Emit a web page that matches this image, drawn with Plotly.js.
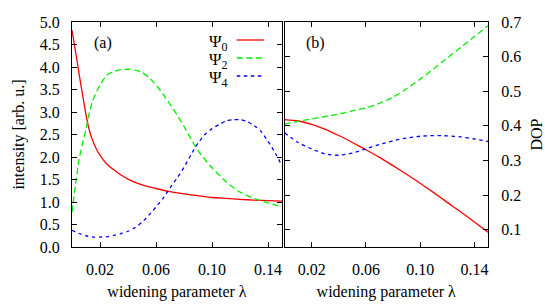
<!DOCTYPE html>
<html>
<head>
<meta charset="utf-8">
<script src="https://cdn.plot.ly/plotly-3.0.1.min.js"></script>
<style>html,body{margin:0;padding:0;background:#fff}#chart{width:545px;height:305px}</style>
</head>
<body>
<div id="chart"></div>
<script>
// ---- data ----
const xTickVals = [0.02, 0.06, 0.10, 0.14];
const xTickText = ["0.02", "0.06", "0.10", "0.14"];
const yLeftTicks = [0, 0.5, 1, 1.5, 2, 2.5, 3, 3.5, 4, 4.5, 5];
const yRightTicks = [0.1, 0.2, 0.3, 0.4, 0.5, 0.6, 0.7];
const seriesNames = ["Ψ<sub>0</sub>", "Ψ<sub>2</sub>", "Ψ<sub>4</sub>"];

// panel (a): intensity
const xA0 = [0, 0.002, 0.004, 0.006, 0.008, 0.010, 0.012, 0.014, 0.016, 0.018, 0.020, 0.0225, 0.025, 0.03, 0.035, 0.04, 0.05, 0.06, 0.07, 0.08, 0.09, 0.10, 0.11, 0.12, 0.13, 0.14, 0.15];
const yA0 = [4.82, 4.44, 4.06, 3.67, 3.30, 2.94, 2.64, 2.43, 2.27, 2.14, 2.04, 1.93, 1.84, 1.71, 1.60, 1.51, 1.38, 1.30, 1.23, 1.18, 1.14, 1.10, 1.08, 1.06, 1.04, 1.03, 1.02];
const xA2 = [0, 0.0025, 0.005, 0.0075, 0.01, 0.0125, 0.015, 0.02, 0.025, 0.03, 0.035, 0.04, 0.045, 0.05, 0.055, 0.06, 0.065, 0.07, 0.075, 0.08, 0.085, 0.09, 0.10, 0.11, 0.12, 0.13, 0.14, 0.15];
const yA2 = [0.78, 1.38, 1.93, 2.30, 2.62, 3.00, 3.27, 3.60, 3.82, 3.90, 3.94, 3.95, 3.93, 3.88, 3.77, 3.60, 3.40, 3.17, 2.94, 2.68, 2.40, 2.14, 1.76, 1.45, 1.22, 1.08, 0.98, 0.89];
const xA4 = [0, 0.005, 0.01, 0.015, 0.02, 0.025, 0.03, 0.035, 0.04, 0.045, 0.05, 0.055, 0.06, 0.065, 0.07, 0.075, 0.08, 0.085, 0.09, 0.095, 0.10, 0.105, 0.11, 0.115, 0.12, 0.125, 0.13, 0.135, 0.14, 0.145, 0.15];
const yA4 = [0.37, 0.30, 0.25, 0.22, 0.22, 0.23, 0.26, 0.30, 0.35, 0.43, 0.55, 0.71, 0.89, 1.08, 1.31, 1.53, 1.77, 2.05, 2.31, 2.50, 2.63, 2.72, 2.80, 2.83, 2.83, 2.79, 2.70, 2.57, 2.35, 2.10, 1.80];

// panel (b): DOP
const xB = [0, 0.01, 0.02, 0.03, 0.04, 0.05, 0.06, 0.07, 0.08, 0.09, 0.10, 0.11, 0.12, 0.13, 0.14, 0.15];
const yB0 = [0.418, 0.414, 0.404, 0.390, 0.372, 0.352, 0.331, 0.309, 0.285, 0.260, 0.234, 0.207, 0.179, 0.151, 0.122, 0.093];
const yB2 = [0.405, 0.413, 0.420, 0.427, 0.434, 0.443, 0.452, 0.465, 0.483, 0.507, 0.535, 0.565, 0.596, 0.627, 0.658, 0.689];
const yB4 = [0.380, 0.352, 0.333, 0.319, 0.315, 0.321, 0.334, 0.346, 0.357, 0.365, 0.370, 0.372, 0.371, 0.368, 0.362, 0.355];

// ---- styles ----
const colors = ["#ff0000", "#00ee00", "#0000ff"];
const dashes = ["solid", "6px,3.5px", "3.5px,3.5px"];
const lw = 1.3;
const FONT = "Liberation Serif, Times New Roman, serif";

function tr(x, y, i, xa, ya) {
  return {x: x, y: y, xaxis: xa, yaxis: ya, type: "scatter", mode: "lines",
    line: {color: colors[i], width: lw, dash: dashes[i], shape: "spline", smoothing: 0.6},
    showlegend: false, hoverinfo: "skip"};
}

const data = [
  tr(xA0, yA0, 0, "x", "y"), tr(xA2, yA2, 1, "x", "y"), tr(xA4, yA4, 2, "x", "y"),
  tr(xB, yB0, 0, "x2", "y2"), tr(xB, yB2, 1, "x2", "y2"), tr(xB, yB4, 2, "x2", "y2")
];

const axBase = {showline: true, linecolor: "#000", linewidth: 1, mirror: "ticks",
  ticks: "inside", ticklen: 5, tickcolor: "#000", tickwidth: 1,
  showgrid: false, zeroline: false, tickfont: {family: FONT, size: 16, color: "#000"}};

const L = 72, R = 57, PW = 545 - L - R;
const TF = {family: FONT, size: 16, color: "#000"};
const layout = {
  width: 545, height: 305,
  margin: {l: L, r: R, t: 22, b: 58, pad: 0},
  paper_bgcolor: "#fff", plot_bgcolor: "#fff",
  font: {family: FONT, size: 16, color: "#000"},
  xaxis: Object.assign({}, axBase, {domain: [0, (282 - L) / PW], range: [0, 0.15],
    tickvals: xTickVals, ticktext: xTickText, anchor: "y", ticklabelstandoff: 8,
    title: {text: "widening parameter λ", font: TF, standoff: 8}}),
  xaxis2: Object.assign({}, axBase, {domain: [(284.5 - L) / PW, 1], range: [0, 0.15],
    tickvals: xTickVals, ticktext: xTickText, anchor: "y2", ticklabelstandoff: 8,
    title: {text: "widening parameter λ", font: TF, standoff: 8}}),
  yaxis: Object.assign({}, axBase, {range: [0, 5], tickvals: yLeftTicks, tickformat: ".1f",
    anchor: "x", ticklabelstandoff: 8,
    title: {text: "intensity [arb. u.]", font: TF, standoff: 11}}),
  yaxis2: Object.assign({}, axBase, {range: [0.05, 0.7], tickvals: yRightTicks, tickformat: ".1f",
    anchor: "x2", side: "right", ticklabelstandoff: 9,
    title: {text: "DOP", font: TF, standoff: 12}}),
  annotations: [
    {text: "(a)", xref: "x", yref: "y", x: 0.0222, y: 4.53, showarrow: false, font: TF},
    {text: "(b)", xref: "x2", yref: "y2", x: 0.0227, y: 0.639, showarrow: false, font: TF}
  ],
  shapes: []
};

// legend (text left, key line right) inside panel (a)
const legY = [4.60, 4.20, 3.80];
for (let i = 0; i < 3; i++) {
  layout.annotations.push({text: seriesNames[i], xref: "x", yref: "y", x: 0.1125, y: legY[i],
    xanchor: "right", yanchor: "middle", yshift: -3, showarrow: false, font: {family: FONT, size: 17}});
  layout.shapes.push({type: "line", xref: "x", yref: "y", x0: 0.1177, x1: 0.1372, y0: legY[i], y1: legY[i],
    line: {color: colors[i], width: lw, dash: dashes[i]}});
}

Plotly.newPlot("chart", data, layout, {staticPlot: true, displayModeBar: false});
</script>
</body>
</html>
